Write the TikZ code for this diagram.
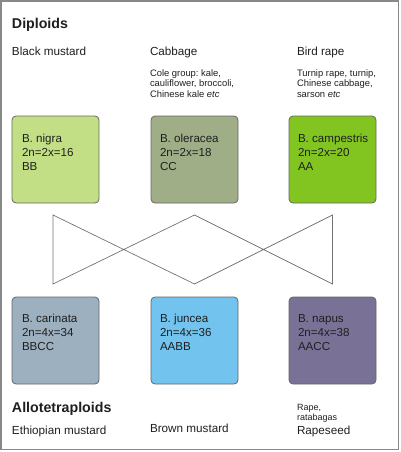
\documentclass[tikz,border=0pt]{standalone}
\usepackage{fontspec}
\setmainfont{Liberation Sans}
\usepackage{tikz}
\usetikzlibrary{positioning}
\frenchspacing

\definecolor{nigrafill}{HTML}{C2DF85}
\definecolor{olerfill}{HTML}{9FAE87}
\definecolor{campfill}{HTML}{82C521}
\definecolor{carifill}{HTML}{9DB0C0}
\definecolor{juncfill}{HTML}{72C4EE}
\definecolor{napufill}{HTML}{7A7296}
\definecolor{framegray}{HTML}{888888}

\begin{document}
\begin{tikzpicture}[
        x=1pt, y=-1pt,
        node distance=94pt and 52pt,
        every node/.style={inner sep=0pt, outer sep=0pt, text=black!88},
        species/.style={draw=black!60, line width=0.8pt, rounded corners=4pt, minimum width=87pt, minimum height=87pt},
        boxtext/.style={anchor=base west, align=left, font=\fontsize{11.6}{13.8}\selectfont},
        heading/.style={anchor=base west, font=\fontsize{14.2}{16}\selectfont\bfseries},
        common/.style={anchor=base west, font=\fontsize{11.7}{14}\selectfont},
        note/.style={anchor=base west, align=left, font=\fontsize{9.4}{10.3}\selectfont},
        cross/.style={draw=black!55, line width=0.7pt}
    ]
        \useasboundingbox (0,0) rectangle (400,452);
        \draw[framegray, line width=1.5pt] (1,1) rectangle (398.5,449.5);

        % Diploids (multi-line nodes sit on their last baseline)
        \node[heading] (diploids) at (12,28.3) {Diploids};
        \node[common] (blackmustard) at (12,56) {Black mustard};
        \node[common] (cabbage) at (150,56) {Cabbage};
        \node[common] (birdrape) at (297,56) {Bird rape};
        \node[note] (colegroup) at (150,97.1) {Cole group: kale,\\cauliflower, broccoli,\\Chinese kale \textit{etc}};
        \node[note] (turnip) at (297,97.1) {Turnip rape, turnip,\\Chinese cabbage,\\sarson \textit{etc}};

        \node[species, fill=nigrafill] (nigra) at (55.5,159.5) {};
        \node[species, fill=olerfill, right=of nigra] (oleracea) {};
        \node[species, fill=campfill, right=51pt of oleracea] (campestris) {};

        \node[boxtext] (nigra-t) at ([xshift=10pt, yshift=-54.3pt]nigra.north west) {B. nigra\\2n=2x=16\\BB};
        \node[boxtext] (oleracea-t) at ([xshift=9pt, yshift=-54.3pt]oleracea.north west) {B. oleracea\\2n=2x=18\\CC};
        \node[boxtext] (campestris-t) at ([xshift=9pt, yshift=-54.3pt]campestris.north west) {B. campestris\\2n=2x=20\\AA};

        % Allotetraploids
        \node[species, fill=carifill, below=of nigra] (carinata) {};
        \node[species, fill=juncfill, below=of oleracea] (juncea) {};
        \node[species, fill=napufill, below=of campestris] (napus) {};

        \node[boxtext] (carinata-t) at ([xshift=10pt, yshift=-53.3pt]carinata.north west) {B. carinata\\2n=4x=34\\BBCC};
        \node[boxtext] (juncea-t) at ([xshift=9pt, yshift=-53.3pt]juncea.north west) {B. juncea\\2n=4x=36\\AABB};
        \node[boxtext] (napus-t) at ([xshift=9pt, yshift=-53.3pt]napus.north west) {B. napus\\2n=4x=38\\AACC};

        \node[heading] (allotetra) at (12,412.7) {Allotetraploids};
        \node[common] (ethiopian) at (12,434.3) {Ethiopian mustard};
        \node[common] (brown) at (150,432.7) {Brown mustard};
        \node[note, font=\fontsize{9}{9.5}\selectfont] (rape) at (297,420) {Rape,\\ratabagas};
        \node[common] (rapeseed) at (297,434.3) {Rapeseed};

        % Crosses
        \coordinate (nA) at ([xshift=-2.5pt, yshift=-12pt]nigra.south);
        \coordinate (oA) at ([yshift=-12pt]oleracea.south);
        \coordinate (cA) at ([yshift=-12pt]campestris.south);
        \coordinate (nB) at ([xshift=-2.5pt, yshift=13pt]carinata.north);
        \coordinate (oB) at ([yshift=13pt]juncea.north);
        \coordinate (cB) at ([yshift=13pt]napus.north);
        \draw[cross] (nA) -- (oB) -- (cA) -- (cB) -- (oA) -- (nB) -- cycle;
    \end{tikzpicture}
\end{document}
